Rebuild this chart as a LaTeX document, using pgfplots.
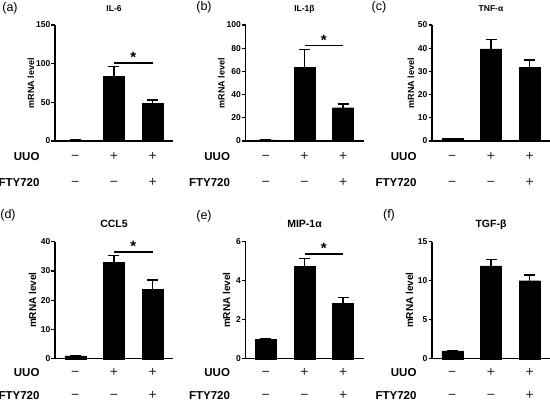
\documentclass[border=0pt]{standalone}
\usepackage{pgfplots}
\pgfplotsset{compat=1.18}
\usepackage{fontspec}
\setmainfont{Liberation Sans}
\newcommand\fs[1]{\fontsize{#1}{#1}\selectfont}
\pgfplotsset{
  panel/.style={
    scale only axis, width=118pt, anchor=south west,
    xmin=-0.526, xmax=2.526, ymin=0,
    axis x line*=bottom, axis y line*=left,
    xtick=\empty, ytick pos=left, tick align=outside,
    major tick length=3.5pt,
    every tick/.style={black, line width=1.3pt},
    axis line style={line width=1.3pt},
    yticklabel style={font=\bfseries\fs{8.5}, inner sep=1pt},
    /pgf/number format/assume math mode=true,
    ylabel={mRNA level},
    clip=false,
  },
  ylab/.style 2 args={every axis y label/.style={at={(axis description cs:#1,0.5)}, rotate=90, anchor=center, font=\bfseries\fs{#2}}},
  bars/.style={ybar, bar width=21pt, fill=black, draw=black,
    error bars/y dir=plus, error bars/y explicit, error bars/error mark=|,
    error bars/error bar style={line width=1.5pt, solid, black},
    error bars/error mark options={line width=1.5pt, mark size=5.5pt, black, solid}},
}
\tikzset{
  sign/.style={font=\fs{14}, anchor=base, text=black!85},
  rowlab/.style={font=\bfseries\fs{11.5}, anchor=base east},
  plab/.style={font=\fs{12.5}, anchor=center},
  star/.style={font=\bfseries\fs{15}, anchor=base},
}
\newcommand\signrows[2]{%
  \node[rowlab, xshift=-12pt, yshift=#1] at (rel axis cs:0,0) {UUO};
  \node[rowlab, xshift=-12pt, yshift=#2] at (rel axis cs:0,0) {FTY720};
  \node[sign, yshift=#1] at (axis cs:0,0) {−};
  \node[sign, yshift=#1] at (axis cs:1,0) {+};
  \node[sign, yshift=#1] at (axis cs:2,0) {+};
  \node[sign, yshift=#2] at (axis cs:0,0) {−};
  \node[sign, yshift=#2] at (axis cs:1,0) {−};
  \node[sign, yshift=#2] at (axis cs:2,0) {+};
}
\newcommand\ttl[3]{%
  \node[font=\bfseries\fs{#2}] at (rel axis cs:0.5,1) [yshift=#3] {#1};
}
\newcommand\sig[1]{%
  \draw[line width=1.5pt] (axis cs:1,#1) -- (axis cs:2,#1);
  \node[star, yshift=0.5pt] at (axis cs:1.5,#1) {*};
}
\begin{document}
\begin{tikzpicture}
\useasboundingbox (0,0) rectangle (550pt,-402pt);
% ---------------- (a) IL-6
\begin{axis}[panel, ylab={-0.205}{9}, at={(55pt,-141pt)}, height=116pt, ymax=150, ytick={0,50,100,150}]
\addplot[bars] coordinates {(0,1) +- (0,0) (1,83.2) +- (0,12.9) (2,48.7) +- (0,4.4)};
\sig{100.8}
\ttl{IL-6}{8.5}{16pt}
\signrows{-19pt}{-45pt}
\end{axis}
% ---------------- (b) IL-1beta
\begin{axis}[panel, ylab={-0.205}{9}, at={(245.5pt,-141pt)}, height=116pt, ymax=100, ytick={0,20,...,100}]
\addplot[bars] coordinates {(0,1) +- (0,0) (1,63.2) +- (0,15.8) (2,28.7) +- (0,3.2)};
\sig{82.2}
\ttl{IL-1β}{8.5}{16pt}
\signrows{-19pt}{-45pt}
\end{axis}
% ---------------- (c) TNF-alpha
\begin{axis}[panel, ylab={-0.178}{9}, at={(432pt,-141pt)}, height=116pt, ymax=50, ytick={0,10,...,50}]
\addplot[bars] coordinates {(0,1) +- (0,0) (1,39.7) +- (0,4.0) (2,31.6) +- (0,3.3)};
\ttl{TNF-α}{8.5}{16pt}
\signrows{-19pt}{-45pt}
\end{axis}
% ---------------- (d) CCL5
\begin{axis}[panel, ylab={-0.19}{10}, at={(55pt,-358.7pt)}, height=117pt, ymax=40, ytick={0,10,...,40}]
\addplot[bars] coordinates {(0,1) +- (0,0) (1,33.0) +- (0,2.3) (2,23.8) +- (0,3.1)};
\sig{36.5}
\ttl{CCL5}{10.5}{17.4pt}
\signrows{-18pt}{-41pt}
\end{axis}
% ---------------- (e) MIP-1alpha
\begin{axis}[panel, ylab={-0.16}{10}, at={(245.5pt,-358.7pt)}, height=117pt, ymax=6, ytick={0,2,4,6}]
\addplot[bars] coordinates {(0,1) +- (0,0) (1,4.75) +- (0,0.4) (2,2.84) +- (0,0.3)};
\sig{5.37}
\ttl{MIP-1α}{10.5}{17.4pt}
\signrows{-18pt}{-41pt}
\end{axis}
% ---------------- (f) TGF-beta
\begin{axis}[panel, ylab={-0.19}{10}, at={(432pt,-358.7pt)}, height=117pt, ymax=15, ytick={0,5,10,15}]
\addplot[bars] coordinates {(0,1) +- (0,0) (1,11.9) +- (0,0.8) (2,10.0) +- (0,0.73)};
\ttl{TGF-β}{10.5}{17.4pt}
\signrows{-18pt}{-41pt}
\end{axis}
% panel labels
\node[plab] at (10pt,-8pt) {(a)};
\node[plab] at (204pt,-7pt) {(b)};
\node[plab] at (379pt,-7pt) {(c)};
\node[plab] at (8pt,-215pt) {(d)};
\node[plab] at (204pt,-216pt) {(e)};
\node[plab] at (389pt,-215pt) {(f)};
\end{tikzpicture}
\end{document}
